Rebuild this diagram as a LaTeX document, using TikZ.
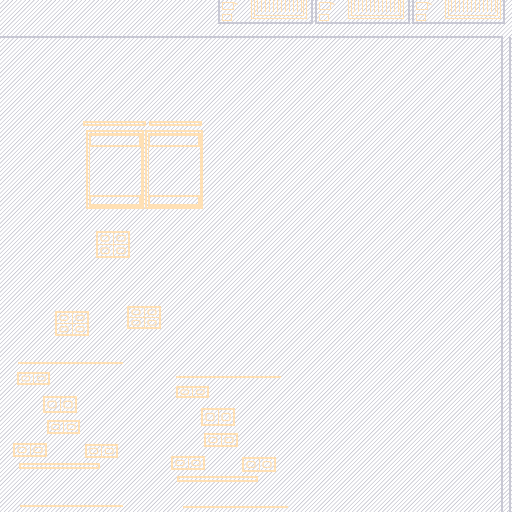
\documentclass[tikz,border=0pt]{standalone}
\usetikzlibrary{calc}
\definecolor{hatch}{HTML}{C6C6D0}
\definecolor{frame}{HTML}{C8C8D4}
\definecolor{peach}{HTML}{FFE0B4}
\tikzset{
  panelline/.style={draw=frame, line width=1.2bp},
  glyphline/.style={draw=peach, line width=1.3bp},
  glyphcell/.style={draw=peach, line width=1.1bp, rounded corners=1.2bp},
  barline/.style={draw=peach, line width=1.1bp},
}
% \gblock{x1}{y1}{x2}{y2}{cols}{rows}
\newcommand{\gblock}[6]{%
  \draw[glyphline] (#1,#2) rectangle (#3,#4);
  \pgfmathsetmacro{\gbw}{(#3-#1)/#5}
  \pgfmathsetmacro{\gbh}{(#4-#2)/#6}
  \foreach \cc in {1,...,#5}{
    \foreach \rr in {1,...,#6}{
      \pgfmathsetmacro{\ax}{#1+(\cc-1)*\gbw}
      \pgfmathsetmacro{\ay}{#2+(\rr-1)*\gbh}
      \draw[glyphline, line width=0.8bp] (\ax,\ay) rectangle ++(\gbw,\gbh);
      \draw[glyphcell] (\ax+0.25*\gbw,\ay+0.28*\gbh) rectangle (\ax+0.75*\gbw,\ay+0.72*\gbh);
    }
  }
}
% \hbarbox{x1}{y1}{x2}{y2}: outlined text bar
\newcommand{\hbarbox}[4]{%
  \draw[barline] (#1,#2) rectangle (#3,#4);
}
% \tabglyphs{x}: contents of one top tab
\newcommand{\tabglyphs}[2]{%
  \draw[panelline] (#1,-1) -- (#1,23) -- (#2,23) -- (#2,-1);
  \draw[glyphline, line width=1bp] (#1+3.5,2.5) rectangle (#1+14.5,9.5);
  \draw[glyphline, line width=1bp] (#1+14.5,2.5) -- (#1+18.5,4.5);
  \draw[glyphline, line width=1bp] (#1+3.5,14.5) rectangle (#1+12.5,20.5);
  \draw[glyphline] (#1+32.5,-1) -- (#1+32.5,18.5) -- (#1+87.5,18.5) -- (#1+87.5,-1);
  \draw[glyphline, line width=1bp] (#1+35.5,-1) -- (#1+35.5,15.5) -- (#1+84.5,15.5) -- (#1+84.5,-1);
  \foreach \kk in {0,...,11}{
    \draw[draw=peach, line width=1.6bp] (#1+38.5+\kk*4,-1) -- (#1+38.5+\kk*4,12.5);
  }
}
\begin{document}
\begin{tikzpicture}[x=1bp,y=-1bp]
\useasboundingbox (0,0) rectangle (512,512);
\fill[white] (0,0) rectangle (512,512);
% background hatching
\begin{scope}
\clip (0,0) rectangle (512,512);
\foreach \i in {0,4.3,...,1030}{
  \draw[hatch, line width=0.6bp] (\i,0) -- (\i-512,512);
}
\end{scope}

% top tabs
\tabglyphs{219}{312}
\tabglyphs{316}{409}
\tabglyphs{413}{504}

% main panel frame
\draw[panelline] (0,37) -- (502,37) -- (502,513);
\draw[panelline] (510,37) -- (510,513);

% cards
\hbarbox{84}{122}{145}{125}
\hbarbox{150}{122}{201}{125}
\draw[glyphline] (87,131) rectangle (143,208);
\draw[glyphline, line width=0.9bp] (89,133) rectangle (141,206);
\hbarbox{90}{135}{140}{146}
\hbarbox{90}{196}{140}{205}
\draw[glyphline] (146,131) rectangle (202,208);
\draw[glyphline, line width=0.9bp] (148,133) rectangle (200,206);
\hbarbox{149}{135}{199}{146}
\hbarbox{149}{196}{199}{205}

% middle glyph blocks
\gblock{97}{232}{129}{257}{2}{2}
\gblock{56}{312}{88}{335}{2}{2}
\gblock{128}{307}{160}{328}{2}{2}

% bottom-left group
\draw[glyphline] (18,363) -- (123,363);
\gblock{18}{373}{49}{384}{2}{1}
\gblock{44}{397}{76}{412}{2}{1}
\gblock{48}{421}{79}{433}{2}{1}
\gblock{14}{444}{46}{456}{2}{1}
\gblock{86}{445}{117}{457}{2}{1}
\hbarbox{20}{464}{99}{468}
\draw[glyphline] (20,506) -- (123,506);

% bottom-middle group
\draw[glyphline] (176,377) -- (281,377);
\gblock{177}{387}{208}{397}{2}{1}
\gblock{202}{409}{234}{425}{2}{1}
\gblock{205}{434}{237}{446}{2}{1}
\gblock{172}{457}{204}{469}{2}{1}
\gblock{243}{458}{275}{471}{2}{1}
\hbarbox{178}{477}{257}{481}
\draw[glyphline] (183,507) -- (288,507);
\end{tikzpicture}
\end{document}
